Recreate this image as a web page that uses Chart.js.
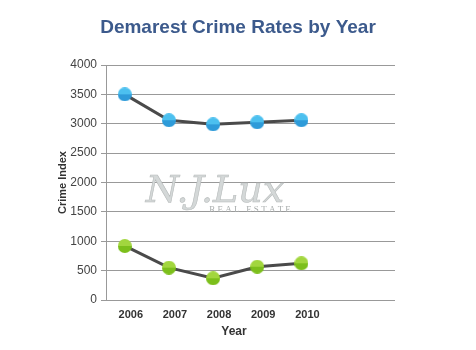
<!DOCTYPE html>
<html>
<head>
<meta charset="utf-8">
<script src="https://cdn.jsdelivr.net/npm/chart.js@4/dist/chart.umd.min.js"></script>
<style>
html,body{margin:0;padding:0;background:#fff;}
#wrap{width:476px;height:350px;position:relative;}
</style>
</head>
<body>
<div id="wrap"><canvas id="c" width="476" height="350"></canvas></div>
<script>
const chartTitle = 'Demarest Crime Rates by Year';
const xTitle = 'Year';
const years = [2006, 2007, 2008, 2009, 2010];
const seriesUpper = [3500, 3060, 2990, 3025, 3060];
const seriesLower = [920, 550, 370, 567, 625];
const yTicks = [0, 500, 1000, 1500, 2000, 2500, 3000, 3500, 4000];

function makeDot(top, bottom, r) {
  const c = document.createElement('canvas');
  c.width = r * 2; c.height = r * 2;
  const g = c.getContext('2d');
  g.beginPath(); g.arc(r, r, r, 0, Math.PI * 2); g.closePath(); g.clip();
  g.fillStyle = top; g.fillRect(0, 0, r * 2, r);
  g.fillStyle = bottom; g.fillRect(0, r, r * 2, r);
  return c;
}
const blueDot = makeDot('#4cc0ef', '#2e9bd9', 7);
const greenDot = makeDot('#a2d63e', '#7cbf1b', 7);

const decor = {
  id: 'decor',
  beforeDatasetsDraw(chart) {
    const ctx = chart.ctx;
    ctx.save();
    ctx.textAlign = 'center';
    ctx.textBaseline = 'alphabetic';
    ctx.fillStyle = '#d4d8d8';
    ctx.strokeStyle = '#b8bcbc';
    ctx.lineWidth = 0.6;
    ctx.font = 'italic 38px "DejaVu Serif", "Liberation Serif", serif';
    ctx.fillText('N.J.Lux', 215, 202);
    ctx.strokeText('N.J.Lux', 215, 202);
    ctx.fillStyle = '#a9adad';
    ctx.font = '9px "Liberation Serif", serif';
    ctx.fillText('R E A L   E S T A T E', 250, 212);
    ctx.restore();
  },
  afterDraw(chart) {
    const ctx = chart.ctx;
    ctx.save();
    ctx.textAlign = 'center';
    ctx.textBaseline = 'middle';
    ctx.fillStyle = '#3c5a8c';
    ctx.font = 'bold 19px Arial, "Liberation Sans", sans-serif';
    ctx.fillText(chartTitle, 238, 28);
    ctx.fillStyle = '#333';
    ctx.font = 'bold 12px Arial, "Liberation Sans", sans-serif';
    ctx.fillText(xTitle, 234, 332);
    ctx.restore();
  }
};

new Chart(document.getElementById('c'), {
  type: 'line',
  data: {
    datasets: [
      {
        data: years.map((y, i) => ({x: y, y: seriesUpper[i]})),
        borderColor: '#4a4a4a',
        borderWidth: 3,
        pointStyle: blueDot,
        pointRadius: 7,
        tension: 0
      },
      {
        data: years.map((y, i) => ({x: y, y: seriesLower[i]})),
        borderColor: '#4a4a4a',
        borderWidth: 3,
        pointStyle: greenDot,
        pointRadius: 7,
        tension: 0
      }
    ]
  },
  plugins: [decor],
  options: {
    responsive: false,
    animation: false,
    layout: {padding: {left: 50, right: 81, top: 65, bottom: 4}},
    plugins: {
      legend: {display: false},
      tooltip: {enabled: false},
      title: {display: false}
    },
    scales: {
      x: {
        type: 'linear',
        min: 2005.575,
        max: 2012.12,
        afterBuildTicks(axis) { axis.ticks = years.map(v => ({value: v})); },
        afterFit(axis) { axis.height = 46; },
        grid: {display: false, drawTicks: false},
        border: {display: false},
        ticks: {
          color: '#333',
          font: {family: 'Arial, "Liberation Sans", sans-serif', size: 11, weight: 'bold'},
          padding: 8,
          labelOffset: 6,
          maxRotation: 0,
          callback: v => String(v)
        },
        title: {display: false}
      },
      y: {
        min: 0,
        max: 4000,
        afterBuildTicks(axis) { axis.ticks = yTicks.map(v => ({value: v})); },
        afterFit(axis) { axis.width = 56; },
        grid: {color: '#999', lineWidth: 1, drawTicks: true, tickLength: 5},
        border: {display: true, color: '#999', width: 1},
        ticks: {
          color: '#444',
          font: {family: 'Arial, "Liberation Sans", sans-serif', size: 12},
          padding: 4,
          callback: v => String(v)
        },
        title: {
          display: true,
          text: 'Crime Index',
          color: '#333',
          font: {family: 'Arial, "Liberation Sans", sans-serif', size: 11, weight: 'bold'},
          padding: {top: 6, bottom: 0}
        }
      }
    }
  }
});
</script>
</body>
</html>
